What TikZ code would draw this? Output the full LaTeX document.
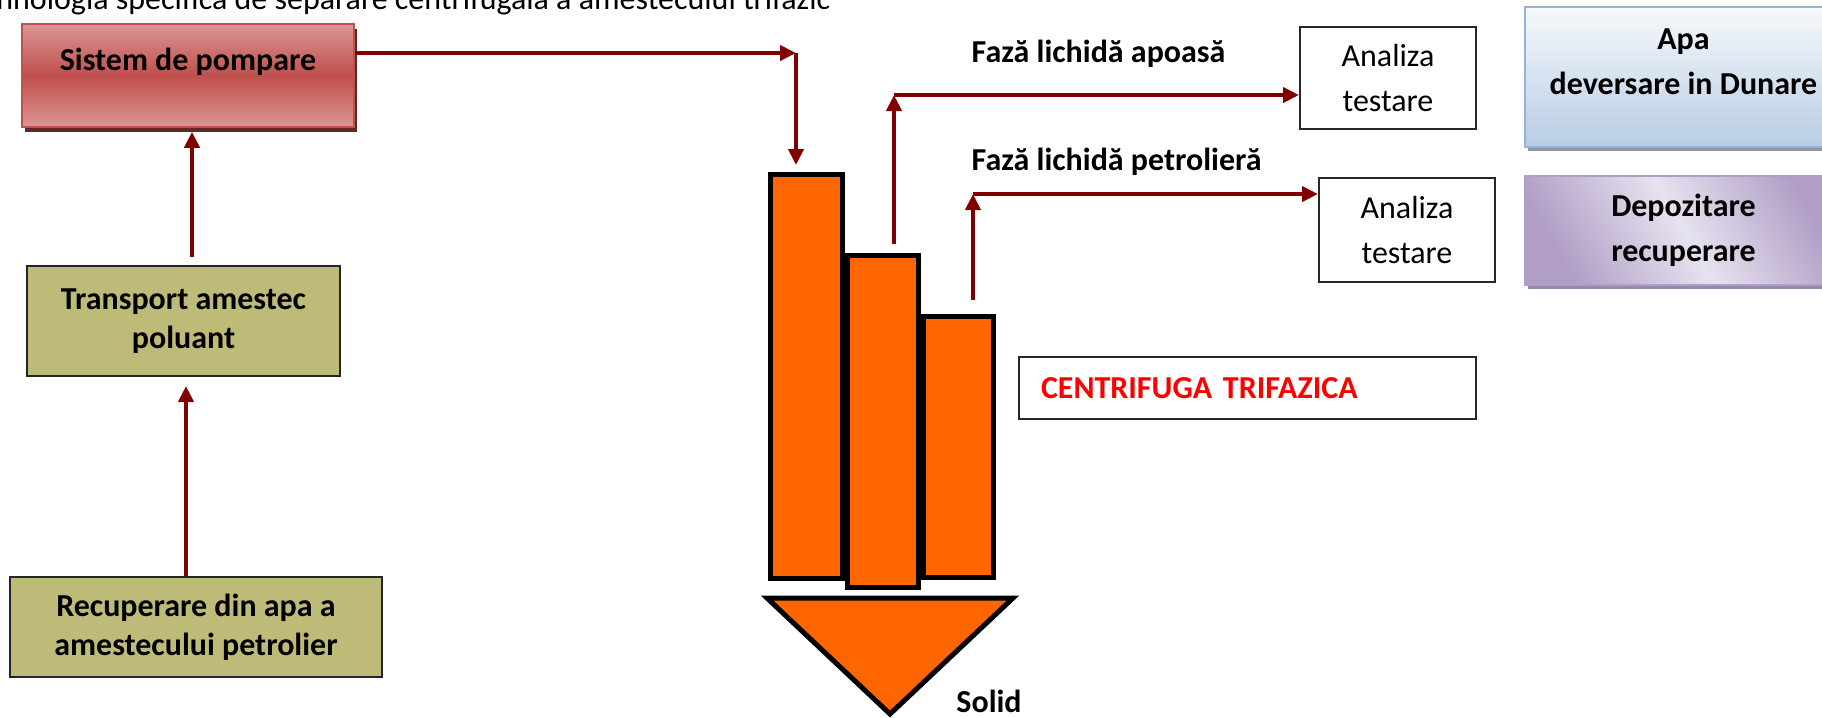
\documentclass[tikz,border=0pt]{standalone}
\usepackage{fontspec}
\setmainfont{Carlito}
\usetikzlibrary{arrows.meta,shadows}

\definecolor{flowred}{RGB}{128,0,0}
\definecolor{pompred}{RGB}{192,80,77}
\definecolor{pomppink}{RGB}{218,150,148}
\definecolor{pompdark}{RGB}{100,38,36}
\definecolor{olivebox}{RGB}{190,187,120}
\definecolor{cforange}{RGB}{255,102,0}
\definecolor{apatop}{RGB}{246,249,252}
\definecolor{apabottom}{RGB}{184,204,228}
\definecolor{apaborder}{RGB}{149,179,215}
\definecolor{apashadow}{RGB}{140,152,168}
\definecolor{depolight}{RGB}{231,226,239}
\definecolor{depodark}{RGB}{176,158,198}
\definecolor{deposhadow}{RGB}{150,138,172}

\tikzset{
	flow/.style={draw=flowred, line width=0.45mm, -{Triangle[length=1.6mm,width=1.5mm]}},
	boldfont/.style={font=\fontsize{9.1}{11.1}\selectfont\bfseries},
	olive/.style={draw=black!85, line width=0.2mm, fill=olivebox, align=center, boldfont},
	analiza/.style={draw=black!85, line width=0.2mm, fill=white, align=center,
		minimum width=17.6mm},
	drum/.style={draw=black, line width=0.5mm, fill=cforange},
	faza/.style={anchor=base west, inner sep=0pt, boldfont}
}

\begin{document}
\begin{tikzpicture}[x=0.1mm, y=-0.1mm, font=\fontsize{9.1}{12.8}\selectfont]
	\useasboundingbox (0,0) rectangle (1822,717);
	\clip (0,0) rectangle (1822,717);
	\node[anchor=base east, inner sep=0pt] (titlu) at (831,9)
		{Tehnologia specifică de separare centrifugală a amestecului trifazic};

	% partea stanga
	\node[draw=pompred, line width=0.15mm, top color=pomppink, bottom color=pomppink,
		middle color=pompred, minimum width=33.2mm, minimum height=10.3mm,
		general shadow={shadow xshift=0.3mm, shadow yshift=-0.45mm, fill=pompdark},
		label={[yshift=1.4mm, boldfont]center:Sistem de pompare}]
		(pompare) at (188,75.5) {};
	\node[olive, minimum width=31.3mm, minimum height=11mm] (transport) at (183.5,321)
		{Transport amestec\\poluant};
	\node[olive, minimum width=37.2mm, minimum height=10mm] (recuperare) at (196,627)
		{Recuperare din apa a\\amestecului petrolier};

	\draw[flow, shorten >=0.9mm] ([xshift=-1mm]recuperare.north)
		-- ([xshift=-1mm]recuperare.north |- transport.south);
	\draw[flow, shorten <=0.8mm, shorten >=0.4mm] ([xshift=0.85mm]transport.north)
		-- ([xshift=0.85mm]transport.north |- pompare.south);

	% centrifuga
	\node[drum, minimum width=7.2mm, minimum height=40.4mm] (inalt) at (806.5,376.5) {};
	\node[drum, minimum width=7.0mm, minimum height=26.1mm] (scurt) at (958.5,447) {};
	\node[drum, minimum width=7.1mm, minimum height=33.2mm] (mediu) at (883,421.5) {};
	\draw[drum, line join=miter] (767,598) -- (1013,598) -- (890,714) -- cycle;
	\node[anchor=base, boldfont] (solid) at (989,712) {Solid};

	\coordinate (colt1) at (796,53);
	\coordinate (colt2) at (894,95);
	\coordinate (colt3) at (973,194);

	\draw[flow] (pompare.east |- colt1) -- (colt1);
	\draw[flow, shorten >=0.7mm] (colt1) -- (colt1 |- inalt.north);

	% faze lichide
	\node[analiza, minimum height=10.2mm] (analiza1) at (1388,78) {Analiza\\testare};
	\node[analiza, minimum height=10.4mm] (analiza2) at (1407,230) {Analiza\\testare};

	\draw[flow, shorten <=0.9mm] (colt2 |- mediu.north) -- (colt2);
	\draw[flow] (colt2) -- (colt2 -| analiza1.west);
	\draw[flow, shorten <=1.4mm] (colt3 |- scurt.north) -- (colt3);
	\draw[flow] (colt3) -- (colt3 -| analiza2.west);

	\node[faza] (apoasa) at (971,62) {Fază lichidă apoasă};
	\node[faza] (petroliera) at (971,170) {Fază lichidă petrolieră};

	\node[draw=black!85, line width=0.2mm, minimum width=45.7mm, minimum height=6.2mm,
		text width=41.3mm, inner xsep=2.2mm, align=left, text=red, boldfont]
		(centrifuga) at (1247.5,388) {CENTRIFUGA TRIFAZICA};

	% destinatii
	\node[draw=apaborder, line width=0.25mm, top color=apatop, bottom color=apabottom,
		minimum width=31.7mm, minimum height=14mm,
		general shadow={shadow xshift=0.3mm, shadow yshift=-0.4mm, fill=apashadow},
		label={[yshift=1.5mm, align=center, font=\fontsize{9.1}{12.8}\selectfont\bfseries]center:Apa\\deversare in Dunare}]
		(apa) at (1683.5,77) {};
	\node[draw=depodark, line width=0.25mm, top color=depodark, bottom color=depodark,
		middle color=depolight, shading angle=-60, minimum width=31.7mm, minimum height=10.9mm,
		general shadow={shadow xshift=0.3mm, shadow yshift=-0.4mm, fill=deposhadow},
		align=center, font=\fontsize{9.1}{12.8}\selectfont\bfseries]
		(depozitare) at (1683.5,230.5) {Depozitare\\recuperare};
\end{tikzpicture}
\end{document}
